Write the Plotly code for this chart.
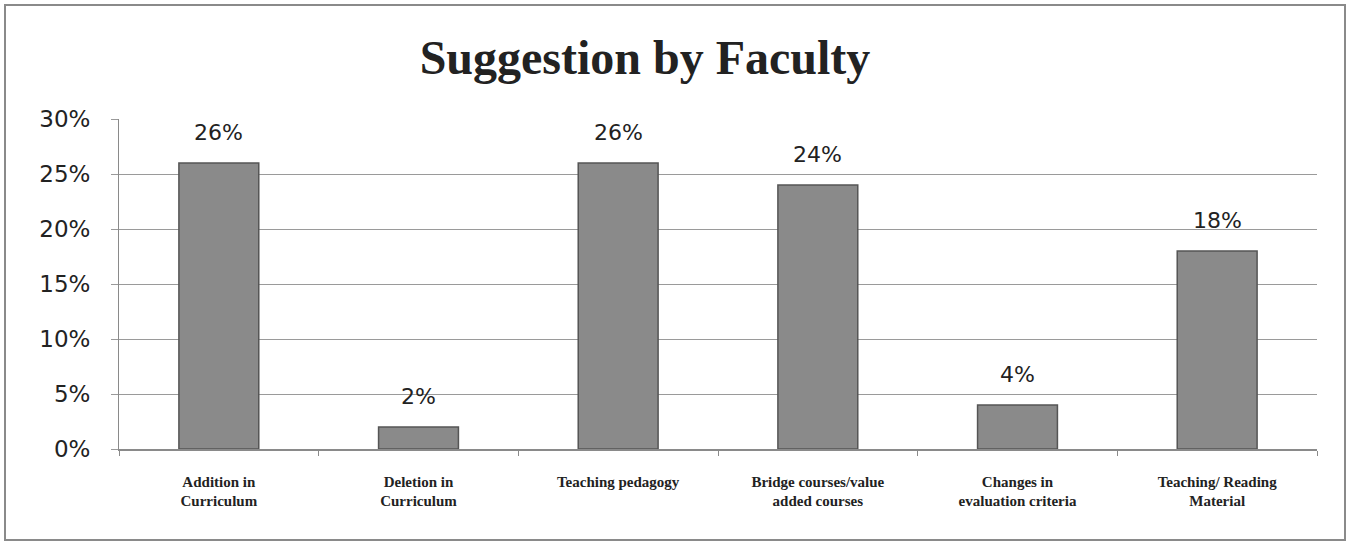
import plotly.graph_objects as go

categories = ["Addition in<br>Curriculum", "Deletion in<br>Curriculum", "Teaching pedagogy",
              "Bridge courses/value<br>added courses", "Changes in<br>evaluation criteria",
              "Teaching/ Reading<br>Material"]
values = [0.26, 0.02, 0.26, 0.24, 0.04, 0.18]
labels = ["26%", "2%", "26%", "24%", "4%", "18%"]
y_ticks = [0, 0.05, 0.10, 0.15, 0.20, 0.25, 0.30]

W, H = 1353, 542
L, R, T, B = 119, 36, 119, 93
pw, ph = W - L - R, H - T - B

fig = go.Figure(go.Bar(
    x=categories, y=values,
    marker=dict(color="#8a8a8a", line=dict(color="#555555", width=1.5)),
    hoverinfo="x+y",
))

for c, v, t in zip(categories, values, labels):
    fig.add_annotation(x=c, y=v, text=t, showarrow=False, yanchor="bottom",
                       yshift=16, font=dict(family="DejaVu Sans", size=22, color="#222"))

def px_x(p):
    return (p - L) / pw

def px_y(p):
    return (H - B - p) / ph

fig.add_shape(type="rect", xref="paper", yref="paper",
              x0=px_x(5), x1=px_x(1345), y0=px_y(540), y1=px_y(5),
              line=dict(color="#8a8a8a", width=2), fillcolor="rgba(0,0,0,0)")

fig.update_layout(
    width=W, height=H,
    margin=dict(l=L, r=R, t=T, b=B),
    paper_bgcolor="white", plot_bgcolor="white",
    bargap=0.6, showlegend=False,
    title=dict(text="<b>Suggestion by Faculty</b>", x=645 / W, xanchor="center",
               y=1 - 57 / H, yanchor="middle",
               font=dict(family="Liberation Serif", size=48, color="#222")),
)
fig.update_yaxes(range=[0, 0.30], tickvals=y_ticks, tickformat=".0%",
                 showgrid=True, gridcolor="#9a9a9a", gridwidth=1,
                 showline=True, linecolor="#8a8a8a", linewidth=1,
                 ticks="outside", ticklen=7, tickcolor="#9a9a9a",
                 ticklabelstandoff=16,
                 tickfont=dict(family="DejaVu Sans", size=23, color="#222"),
                 zeroline=False)
fig.update_xaxes(showline=True, linecolor="#8a8a8a", linewidth=1.5,
                 ticks="outside", tickson="boundaries", ticklen=5, tickcolor="#8a8a8a",
                 ticklabelstandoff=18,
                 tickfont=dict(family="Liberation Serif", size=15, color="#222"),
                 tickprefix="<b>", ticksuffix="</b>")

fig.write_html("out.html", config={"displayModeBar": False},
               post_script="document.body.style.margin='0';")
